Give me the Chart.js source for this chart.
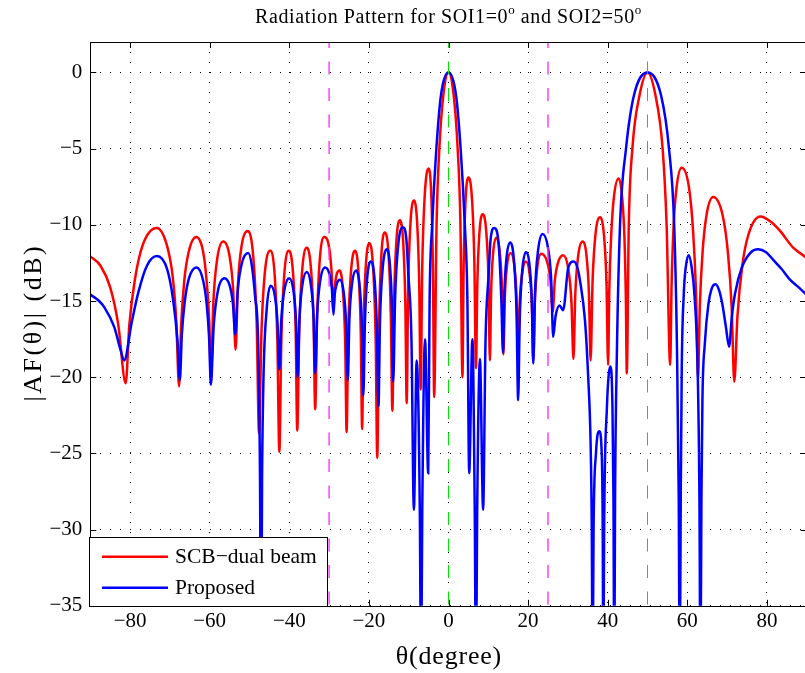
<!DOCTYPE html>
<html><head><meta charset="utf-8">
<script src="https://cdn.jsdelivr.net/npm/chart.js@4.4.1/dist/chart.umd.min.js"></script>
<style>html,body{margin:0;padding:0;overflow:hidden;background:#fff}canvas{display:block}</style>
</head><body>
<canvas id="c" width="812" height="673"></canvas>
<script>
// ---------------- data ----------------
const scbTheta = [-90,-87.4,-85,-83,-81.1,-80.2,-78.8,-76.8,-73.3,-70.8,-69.3,-68.4,-67.7,-67.2,-66.4,-65.3,-63.4,-61.7,-60.8,-60.1,-59.7,-59.1,-58.15,-56.6,-55.05,-54.1,-53.5,-52.9,-52.0,-50.5,-49.05,-48.2,-47.6,-47.0,-46.2,-44.8,-43.65,-43.0,-42.5,-42.0,-41.3,-40.1,-39.05,-38.4,-38.0,-37.5,-36.8,-35.6,-34.55,-33.9,-33.5,-33.0,-32.35,-31.2,-30.05,-29.4,-28.9,-28.6,-28.15,-27.4,-26.5,-25.95,-25.6,-25.2,-24.55,-23.5,-22.6,-22.05,-21.7,-21.35,-20.8,-19.9,-18.9,-18.3,-17.9,-17.5,-16.95,-16.0,-15.05,-14.5,-14.1,-13.7,-13.15,-12.2,-11.35,-10.85,-10.5,-10.15,-9.6,-8.7,-7.85,-7.35,-7.0,-6.6,-6.0,-5.0,-4.3,-3.9,-3.6,-3.0,-2.3,-1.3,0,1.3,2.3,3.0,3.5,3.8,4.25,5.0,5.95,6.5,6.9,7.25,7.75,8.6,9.5,10.05,10.4,10.7,11.2,12.0,12.9,13.45,13.8,14.15,14.7,15.6,16.55,17.1,17.5,17.9,18.5,19.45,20.4,20.95,21.3,21.7,22.3,23.3,24.75,25.6,26.2,26.7,27.5,28.8,30.1,30.9,31.4,31.85,32.55,33.7,34.7,35.3,35.7,36.2,36.9,38.1,39.1,39.7,40.1,40.4,40.9,41.55,42.75,43.65,44.2,44.55,44.8,45.3,46.2,48.0,50,52.0,53.8,54.8,55.7,56.05,56.55,57.3,58.6,60.45,61.45,62.2,62.7,63.15,63.85,64.8,66.5,68.9,70.2,71.15,71.8,72.6,73.8,75.4,78.4,81.0,83.3,86.6,89.6,90];
const scbDb = [-12.07,-12.7,-14.1,-16.5,-20.4,-16.6,-13.6,-11.3,-10.2,-11.3,-13.4,-16.3,-20.6,-16.7,-13.7,-11.8,-10.8,-11.7,-13.6,-16.4,-20.2,-15.2,-12.3,-11.1,-12.0,-14.3,-18.2,-13.9,-11.4,-10.4,-12.1,-16.4,-23.7,-17.1,-13.3,-11.7,-13.4,-17.6,-24.9,-17.6,-13.4,-11.7,-13.2,-17.0,-23.5,-16.9,-13.1,-11.5,-12.9,-16.3,-22.1,-15.9,-12.3,-10.8,-11.4,-13.0,-15.6,-14.2,-13.3,-13.0,-14.4,-17.8,-23.6,-17.1,-13.25,-11.7,-13.2,-17.0,-23.4,-16.7,-12.8,-11.2,-13.0,-17.5,-25.3,-17.2,-12.4,-10.5,-12.0,-15.8,-22.2,-15.3,-11.3,-9.7,-11.3,-15.1,-21.7,-14.4,-10.1,-8.4,-10.0,-14.0,-20.8,-12.8,-8.2,-6.3,-8.25,-13.05,-21.3,-10,-5,-1.5,0,-1.5,-5,-10,-20.0,-12.8,-8.6,-6.9,-8.5,-12.5,-19.4,-13.8,-10.6,-9.3,-10.5,-13.6,-18.9,-14.5,-11.9,-10.85,-11.85,-14.3,-18.5,-14.8,-12.7,-11.85,-12.7,-14.75,-18.3,-15.05,-13.2,-12.4,-13.25,-15.3,-18.9,-15.05,-12.8,-11.9,-12.4,-13.6,-15.7,-13.7,-12.5,-12.0,-12.9,-15.1,-18.8,-14.6,-12.1,-11.1,-12.1,-14.6,-18.9,-13.7,-10.7,-9.5,-10.8,-13.9,-19.2,-14.3,-10.6,-8.2,-6.95,-8.25,-10.8,-14.6,-19.75,-10,-5,-1.5,0,-1.5,-5,-10,-19.2,-14.0,-10.1,-7.55,-6.26,-7.6,-10.4,-14.5,-20.1,-15.3,-11.75,-9.4,-8.18,-9.4,-11.8,-15.4,-20.3,-16.0,-12.7,-10.6,-9.45,-9.8,-10.4,-11.5,-12.1,-12.2];

const propTheta = [-90,-88,-86.5,-84,-82.4,-81.5,-79.6,-77.9,-75.8,-73.3,-70.7,-69.2,-68.1,-67.5,-67.0,-66.25,-65.2,-63.3,-61.7,-60.8,-60.15,-59.7,-59.0,-58.0,-56.3,-54.95,-54.15,-53.6,-52.95,-51.95,-50.3,-49.4,-48.6,-47.8,-47.35,-47.1,-46.85,-46.5,-45.7,-44.7,-43.6,-42.95,-42.5,-42.0,-41.25,-40.0,-38.95,-38.3,-37.9,-37.45,-36.75,-35.6,-34.55,-33.9,-33.5,-33.0,-32.25,-31.0,-29.95,-29.3,-28.9,-28.6,-28.1,-27.3,-26.3,-25.7,-25.3,-24.9,-24.25,-23.2,-22.3,-21.75,-21.4,-21.0,-20.45,-19.5,-18.55,-18.0,-17.6,-17.2,-16.55,-15.5,-14.7,-14.2,-13.9,-13.4,-12.7,-11.5,-10.6,-10.1,-9.3,-8.7,-8.0,-7.2,-6.9,-6.6,-5.9,-5.1,-4.75,-4.1,-3.05,-1.9,0,1.9,3.05,4.1,4.75,5.2,6.0,6.6,6.9,7.2,7.9,8.7,9.3,10.1,10.6,11.5,12.6,13.25,13.7,14.05,14.6,15.5,16.5,17.1,17.5,17.9,18.5,19.45,20.4,20.95,21.3,21.75,22.5,23.65,25.0,25.8,26.3,26.9,27.9,28.8,30.1,31.45,32.4,33.0,34.3,35.1,35.7,36.0,36.2,36.45,37.05,37.9,38.5,38.75,38.9,39.1,39.8,40.7,41.2,41.45,41.65,41.85,42.3,43.1,44.6,46.6,50,53.4,55.4,56.7,57.4,57.85,58.1,58.35,58.6,59.1,59.6,60.35,61.1,61.8,62.6,63.05,63.3,63.55,63.8,64.4,65.3,66.1,67.1,68.0,68.8,69.7,70.5,71.2,72.0,73.7,75.8,77.8,79.8,81.6,83.7,85.8,88,90];
const propDb = [-14.58,-14.95,-15.4,-16.7,-18.2,-18.9,-16.4,-14.4,-12.7,-12.05,-12.9,-14.9,-17.6,-20.2,-17.2,-15.0,-13.5,-12.8,-13.6,-15.1,-17.4,-20.5,-16.65,-14.4,-13.5,-14.0,-15.2,-17.2,-14.3,-12.55,-11.85,-12.7,-14.7,-18.0,-27,-40,-27,-20.2,-15.6,-14.0,-14.7,-16.5,-19.5,-16.2,-14.3,-13.5,-14.35,-16.4,-20.0,-16.2,-14.0,-13.1,-14.0,-16.1,-19.75,-15.9,-13.7,-12.8,-13.2,-14.2,-15.9,-14.6,-13.9,-13.6,-14.5,-16.6,-20.2,-16.2,-13.9,-13.0,-14.1,-16.7,-21.2,-16.4,-13.55,-12.4,-13.65,-16.7,-21.9,-16.2,-12.9,-11.6,-12.7,-15.5,-20.3,-14.7,-11.5,-10.15,-10.9,-13.2,-17.6,-28.7,-18.9,-29,-40,-29,-17.5,-26.3,-15,-10,-5,-1.5,0,-1.5,-5,-10,-15,-26.3,-17.5,-29,-40,-29,-18.8,-28.7,-17.6,-13.2,-10.9,-10.2,-11.25,-14.7,-18.4,-14.4,-12.1,-11.15,-12.5,-15.8,-21.5,-16.2,-13.1,-11.8,-12.75,-15.1,-19.1,-14.4,-11.7,-10.6,-11.5,-13.6,-17.35,-16.0,-15.3,-15.6,-12.8,-12.4,-12.8,-13.6,-16.3,-20.0,-24.3,-30,-40,-30,-25,-23.55,-25,-30,-40,-30,-22,-19.3,-22,-28,-40,-28,-18.5,-10,-5,-1.5,0,-1.5,-5,-10,-18,-28,-40,-28,-19.5,-14.6,-12.8,-12.0,-12.8,-14.6,-19.5,-28,-40,-28,-21.5,-17.8,-15.2,-14.2,-13.9,-14.3,-15.2,-16.7,-18.0,-16.0,-14.5,-12.8,-11.85,-11.6,-11.8,-12.3,-12.9,-13.6,-14.1,-14.6];

const soiAngles = [0, 50];          // green dashed markers
const interfAngles = [-30, 25];     // magenta dashed markers
const xTicks = [-80, -60, -40, -20, 0, 20, 40, 60, 80];
const yTicks = [-35, -30, -25, -20, -15, -10, -5, 0];
const seriesNames = ['SCB\u2212dual beam', 'Proposed'];
const titleParts = [['Radiation Pattern for SOI1=0', false], ['o', true], [' and SOI2=50', false], ['o', true]];
const xLabel = '\u03b8(degree)';
const yLabel = '|AF(\u03b8)| (dB)';

// ---------------- chart ----------------
const SERIF = '"Liberation Serif","Times New Roman",serif';
const toPts = (xs, ys) => xs.map((v, i) => ({x: v, y: ys[i]}));
const Y_MIN = -35, Y_MAX = 2;
const vline = (v, color, width, dash) => ({
  data: [{x: v, y: Y_MAX}, {x: v, y: Y_MIN}], borderColor: color, borderWidth: width,
  borderDash: dash, borderDashOffset: 7, pointRadius: 0, order: 1, isRef: true, clip: 0
});
const fmt = v => (v < 0 ? '\u2212' + Math.abs(v) : String(v));

function spacedWidth(ctx, text, sp) {
  let w = 0; for (const ch of text) w += ctx.measureText(ch).width + sp; return w - sp;
}
function drawSpaced(ctx, text, x, y, sp) {
  for (const ch of text) { ctx.fillText(ch, x, y); x += ctx.measureText(ch).width + sp; }
  return x;
}

const decor = {
  id: 'decor',
  afterDraw(chart) {
    const {ctx, chartArea: a, scales: {x, y}} = chart;
    ctx.save();
    // axes box
    ctx.strokeStyle = '#000'; ctx.lineWidth = 1; ctx.setLineDash([]);
    ctx.strokeRect(Math.round(a.left) + 0.5, Math.round(a.top) + 0.5,
                   Math.round(a.right - a.left), Math.round(a.bottom - a.top));
    // inner tick marks
    const L = 6;
    ctx.beginPath();
    xTicks.forEach(v => {
      const p = Math.round(x.getPixelForValue(v)) + 0.5;
      ctx.moveTo(p, a.bottom); ctx.lineTo(p, a.bottom - L);
      ctx.moveTo(p, a.top); ctx.lineTo(p, a.top + L);
    });
    yTicks.forEach(v => {
      const p = Math.round(y.getPixelForValue(v)) + 0.5;
      ctx.moveTo(a.left, p); ctx.lineTo(a.left + L, p);
      ctx.moveTo(a.right, p); ctx.lineTo(a.right - L, p);
    });
    ctx.stroke();
    // legend box (bottom-left, inside axes)
    const bx = 89.5, by = 537.5, bw = 238, bh = 69;
    ctx.fillStyle = '#fff'; ctx.fillRect(bx, by, bw, bh);
    ctx.strokeStyle = '#000'; ctx.lineWidth = 1; ctx.strokeRect(bx, by, bw, bh);
    const rows = [556.7, 587.7];
    chart.data.datasets.filter(d => !d.isRef).forEach((d, i) => {
      ctx.strokeStyle = d.borderColor; ctx.lineWidth = 2.5;
      ctx.beginPath(); ctx.moveTo(102, rows[i]); ctx.lineTo(168, rows[i]); ctx.stroke();
      ctx.fillStyle = '#000'; ctx.font = '21.5px ' + SERIF; ctx.textBaseline = 'middle'; ctx.textAlign = 'left';
      ctx.fillText(d.label, 175, rows[i] + 1);
    });
    ctx.fillStyle = '#000'; ctx.textAlign = 'left';
    // title with superscripts
    const mainF = '20px ' + SERIF, supF = '13px ' + SERIF, tsp = 0.6;
    let total = 0;
    titleParts.forEach(([t, sup]) => { ctx.font = sup ? supF : mainF; total += spacedWidth(ctx, t, tsp) + tsp; });
    let cx = (a.left + a.right) / 2 - total / 2;
    ctx.textBaseline = 'alphabetic';
    titleParts.forEach(([t, sup]) => {
      ctx.font = sup ? supF : mainF;
      cx = drawSpaced(ctx, t, cx, sup ? 14 : 23, tsp);
    });
    // x axis title
    ctx.font = '26px ' + SERIF; ctx.textBaseline = 'middle';
    const xsp = 0.8;
    drawSpaced(ctx, xLabel, (a.left + a.right) / 2 - spacedWidth(ctx, xLabel, xsp) / 2, 657, xsp);
    // y axis title (rotated)
    const ysp = 2.5;
    ctx.translate(34, (a.top + a.bottom) / 2);
    ctx.rotate(-Math.PI / 2);
    drawSpaced(ctx, yLabel, -spacedWidth(ctx, yLabel, ysp) / 2, 0, ysp);
    ctx.restore();
  }
};

new Chart(document.getElementById('c'), {
  type: 'line',
  data: {
    datasets: [
      {label: seriesNames[0], data: toPts(scbTheta, scbDb), borderColor: 'rgb(255,0,0)', borderWidth: 2.5,
       pointRadius: 0, cubicInterpolationMode: 'monotone', order: 3, clip: 0},
      {label: seriesNames[1], data: toPts(propTheta, propDb), borderColor: 'rgb(0,0,255)', borderWidth: 2.5,
       pointRadius: 0, cubicInterpolationMode: 'monotone', order: 2, clip: 0},
      ...soiAngles.map(v => vline(v, '#00e600', 1, [13, 13.5])),
      ...interfAngles.map(v => vline(v, '#ff33ff', 1.4, [13, 13.5]))
    ]
  },
  options: {
    responsive: false, devicePixelRatio: 1, animation: false,
    layout: {padding: {top: 42, right: 5.3, left: 0, bottom: 0}},
    plugins: {legend: {display: false}, title: {display: false}, tooltip: {enabled: false}},
    scales: {
      x: {
        type: 'linear', min: -90, max: 90,
        afterBuildTicks: s => { s.ticks = xTicks.map(v => ({value: v})); },
        afterFit: s => { s.height = 67.2; },
        ticks: {callback: fmt, color: '#000', font: {family: SERIF, size: 21}, padding: 3, maxRotation: 0, autoSkip: false},
        grid: {color: '#000', lineWidth: 1, drawTicks: false},
        border: {display: false, dash: [1, 9]}
      },
      y: {
        type: 'linear', min: Y_MIN, max: Y_MAX,
        afterBuildTicks: s => { s.ticks = yTicks.map(v => ({value: v})); },
        afterFit: s => { s.width = 90.3; },
        ticks: {callback: fmt, color: '#000', font: {family: SERIF, size: 21}, padding: 8, autoSkip: false},
        grid: {color: '#000', lineWidth: 1, drawTicks: false},
        border: {display: false, dash: [1, 9]}
      }
    }
  },
  plugins: [decor]
});
</script>
</body></html>
